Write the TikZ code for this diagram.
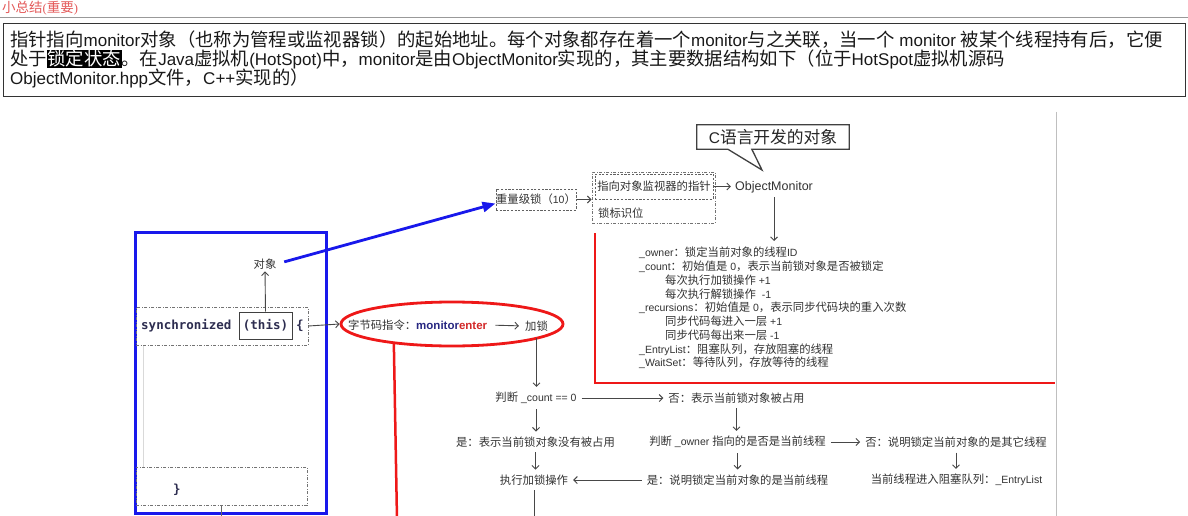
\documentclass[tikz,border=0pt]{standalone}
\usepackage{fontspec}
\usetikzlibrary{arrows.meta,shapes.geometric,calc}
\setmainfont{Liberation Sans}
\newfontfamily\cjk{Noto Sans CJK SC}[Scale=1.08]
\newfontfamily\seriffont{Liberation Serif}
\newfontfamily\codefont{DejaVu Sans Mono}
\XeTeXinterchartokenstate=1
\newXeTeXintercharclass\CJKcls
\makeatletter
\def\setcjkrange#1#2{\count@=#1\relax\loop\XeTeXcharclass\count@=\CJKcls\relax\advance\count@\@ne\ifnum\count@<#2\relax\repeat}
\setcjkrange{"3000}{"3040}
\setcjkrange{"4E00}{"A000}
\setcjkrange{"FF00}{"FF60}
\makeatother
\XeTeXinterchartoks 0 \CJKcls = {\begingroup\cjk}
\XeTeXinterchartoks 4095 \CJKcls = {\begingroup\cjk}
\XeTeXinterchartoks \CJKcls 0 = {\endgroup}
\XeTeXinterchartoks \CJKcls 4095 = {\endgroup}
\definecolor{redc}{RGB}{238,24,24}
\definecolor{bluec}{RGB}{24,24,235}
\definecolor{navyc}{RGB}{40,40,130}
\definecolor{enterc}{RGB}{210,40,40}
\definecolor{codec}{RGB}{45,45,80}
\definecolor{headc}{RGB}{228,90,90}
\begin{document}
\begin{tikzpicture}[x=1pt,y=-1pt,
  txt/.style={inner sep=0pt, text=black!80, font=\fontsize{10.5}{12}\selectfont},
  ftxt/.style={inner xsep=5pt, inner ysep=5pt, text=black!80, font=\fontsize{10.5}{12}\selectfont},
  arr/.style={draw=black!72, line width=0.9pt, -{Straight Barb[length=3.5pt,width=7pt]}},
  dbox/.style={draw=black!55, line width=1pt, dash pattern=on 3pt off 1.5pt on 1pt off 1.5pt},
  dshbox/.style={draw=black!62, line width=1pt, dash pattern=on 2.2pt off 1.5pt},
  code/.style={inner sep=0pt, text=codec, font=\fontsize{12.5}{14}\selectfont\codefont\bfseries},
]
\useasboundingbox (0,0) rectangle (1188,516);
\fill[white] (0,0) rectangle (1188,516);

% ---------- header ----------
\node[anchor=west, inner sep=0, text=headc, font=\fontsize{12.5}{14}\selectfont\seriffont] (head) at (2,8) {小总结(重要)};
\draw[black!40, line width=1pt] (0,17.5) -- (1188,17.5);
\node[draw=black!80, line width=1.2pt, anchor=north west, minimum width=1182, minimum height=73, inner sep=0] (intro) at (3,23) {};
\node[anchor=base west, inner sep=0, text=black!90, font=\fontsize{17}{19}\selectfont] (l1) at (10,47) {指针指向monitor对象（也称为管程或监视器锁）的起始地址。每个对象都存在着一个monitor与之关联，当一个 monitor 被某个线程持有后，它便};
\node[anchor=base west, inner sep=0, text=black!90, font=\fontsize{17}{19}\selectfont] (l2) at (10,66) {处于{\fboxsep=0.6pt\colorbox{black}{\color{white}锁定状态}}。在Java虚拟机(HotSpot)中，monitor是由ObjectMonitor实现的，其主要数据结构如下（位于HotSpot虚拟机源码};
\node[anchor=base west, inner sep=0, text=black!90, font=\fontsize{17}{19}\selectfont] (l3) at (10,85) {ObjectMonitor.hpp文件，C++实现的）};

% ---------- diagram border ----------
\draw[black!25, line width=0.8pt] (1056,112) -- (1056,516);

% ---------- callout ----------
\node[inner sep=0, minimum width=152, minimum height=24, text=black!85, font=\fontsize{15.5}{17}\selectfont] (callout) at (773,137) {C语言开发的对象};
\coordinate (tailtip) at (762,170);
\draw[black!75, line width=1.3pt, line join=miter] (callout.north west) -- (callout.north east) -- (callout.south east) -- ($(callout.south west)+(55,0)$) -- (tailtip) -- ($(callout.south west)+(31,0)$) -- (callout.south west) -- cycle;

% ---------- object monitor ----------
\node[txt, font=\fontsize{12.5}{14}\selectfont] (om) at (774,187) {ObjectMonitor};
\node[dbox, minimum width=123, minimum height=51, inner sep=0] (mark) at (653.5,197.5) {};
\node[txt, dshbox, minimum width=118, minimum height=25] (ptr) at (654,186.5) {指向对象监视器的指针};
\node[txt, anchor=west] (flag) at (598,213) {锁标识位};
\node[txt, dshbox, minimum width=80, minimum height=21] (heavy) at (536,199.5) {重量级锁（10）};
\draw[arr] (heavy.east) -- (heavy.east -| mark.west);
\draw[arr, shorten >=4pt] (ptr.east) -- (ptr.east -| om.west);
\coordinate (omtip) at (774,241);
\draw[arr, shorten <=4pt] (om.south) -- (omtip);

\node[txt, anchor=north west, align=left, font=\fontsize{10.5}{13.75}\selectfont] (fields) at (639,247) {\_owner：锁定当前对象的线程ID\\
\_count：初始值是 0，表示当前锁对象是否被锁定\\
\hspace*{26pt}每次执行加锁操作 +1\\
\hspace*{26pt}每次执行解锁操作 \ -1\\
\_recursions：初始值是 0，表示同步代码块的重入次数\\
\hspace*{26pt}同步代码每进入一层 +1\\
\hspace*{26pt}同步代码每出来一层 -1\\
\_EntryList：阻塞队列，存放阻塞的线程\\
\_WaitSet：等待队列，存放等待的线程};

\draw[redc, line width=2.5pt] (595,233) -- (595,383) -- (1055,383);

% ---------- java code side ----------
\node[draw=bluec, line width=3pt, minimum width=191, minimum height=281, inner sep=0] (frame) at (230.5,372.5) {};
\draw[black!15, line width=0.6pt] (143,346) -- (143,467);
\node[txt] (obj) at (265,264) {对象};
\draw[bluec, line width=2.8pt, shorten <=8pt, -{Triangle[length=13pt,width=10pt]}] (obj.east) -- ($(heavy.west)+(0,4)$);

\node[dbox, minimum width=172, minimum height=38, inner sep=0] (sync) at (222,326) {};
\node[code, anchor=west] (kw) at (141,326) {synchronized};
\node[code, draw=black!75, line width=1pt, minimum width=53, minimum height=27] (this) at (265.5,325.5) {(this)};
\node[code] (brace) at (300,326) {\{};
\draw[arr, shorten >=2pt] (this.north) -- (obj.south);

\node[dbox, minimum width=171, minimum height=38, inner sep=0] (endb) at (221.5,486) {};
\node[code] (rbrace) at (177,490) {\}};
\coordinate (endbot) at (221.5,517);
\draw[black!60, line width=1.2pt] (endb.south) -- (endbot);

% ---------- monitorenter ----------
\node[ellipse, draw=redc, line width=2.8pt, minimum width=222, minimum height=44, inner sep=0] (ell) at (452,324) {};
\draw[arr] (sync.east) -- (ell.west);
\node[txt, anchor=west] (bc) at (348,325) {字节码指令：{\fontsize{11.5}{12}\selectfont\bfseries\color{navyc}monitor}{\fontsize{11.5}{12}\selectfont\bfseries\color{enterc}enter}};
\node[txt] (lock) at (536.5,326) {加锁};
\draw[arr, shorten <=8pt, shorten >=6pt] (bc.east) -- (lock.west);
\coordinate (redbot) at (397,520);
\draw[redc, line width=2.5pt] (ell.199) -- (redbot);

% ---------- flow ----------
\node[ftxt] (c0) at (536,398) {判断 \_count == 0};
\node[ftxt] (n1) at (736.5,398) {否：表示当前锁对象被占用};
\node[ftxt] (y1) at (535.5,442) {是：表示当前锁对象没有被占用};
\node[ftxt] (o1) at (737.5,442) {判断 \_owner 指向的是否是当前线程};
\node[ftxt] (n2) at (956,442) {否：说明锁定当前对象的是其它线程};
\node[ftxt] (act) at (534,480) {执行加锁操作};
\node[ftxt] (y2) at (737.5,480) {是：说明锁定当前对象的是当前线程};
\node[ftxt] (el) at (956.5,480) {当前线程进入阻塞队列：\_EntryList};

\draw[arr, shorten <=7pt] (lock.south) -- (lock.south |- c0.north);
\draw[arr] (c0.east) -- (c0.east -| n1.west);
\draw[arr] (c0.south) -- (c0.south |- y1.north);
\draw[arr] (n1.south) -- (n1.south |- o1.north);
\draw[arr] (o1.east) -- (o1.east -| n2.west);
\draw[arr] (y1.south) -- (y1.south |- act.north);
\draw[arr] (o1.south) -- (o1.south |- y2.north);
\draw[arr] (n2.south) -- (n2.south |- el.north);
\draw[arr] (y2.west) -- (y2.west -| act.east);
\coordinate (actbot) at (536,524);
\draw[arr] (act.south) -- (act.south |- actbot);
\end{tikzpicture}
\end{document}
